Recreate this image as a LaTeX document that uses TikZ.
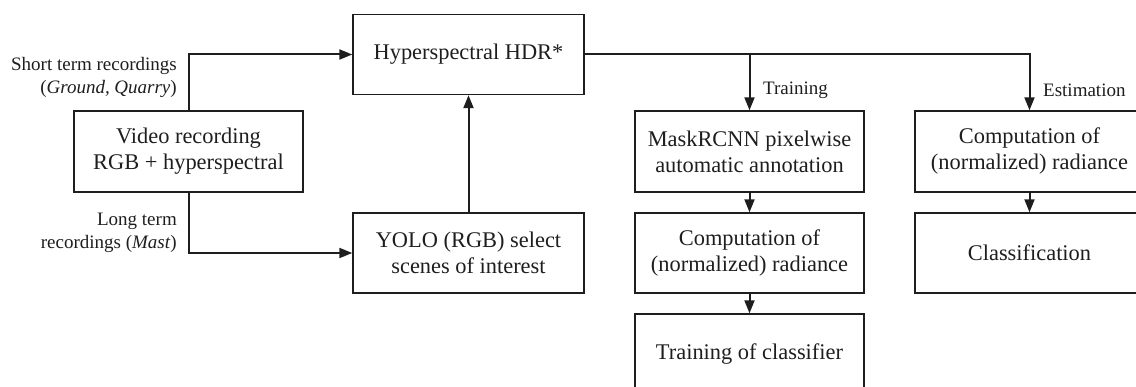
\documentclass[tikz,border=0pt]{standalone}
\usepackage{fontspec}
\setmainfont{Liberation Serif}
\usetikzlibrary{arrows.meta}
\definecolor{ink}{HTML}{1E1E1E}
\begin{document}
\begin{tikzpicture}[x=1pt,y=-1pt,
  box/.style={draw=ink, line width=1.4pt, minimum width=229pt, minimum height=81pt,
    inner sep=0pt, align=center, text=ink, font=\fontsize{22.4}{26}\selectfont},
  conn/.style={draw=ink, line width=2pt, -{Triangle[length=13pt,width=10pt]}},
  lbl/.style={inner sep=0pt, text=ink, font=\fontsize{19}{23}\selectfont}]
\useasboundingbox (0,0) rectangle (1136,387);
\clip (0,0) rectangle (1136,387);
\node[box] (video) at (188.5,151.5) {Video recording\\RGB + hyperspectral};
\node[box, minimum width=231pt, minimum height=80pt] (hyper) at (468.5,54.5) {Hyperspectral HDR*};
\node[box, minimum width=231pt, minimum height=80pt] (yolo) at (468.5,253) {YOLO (RGB) select\\scenes of interest};
\node[box] (mask) at (749.5,151.5) {MaskRCNN pixelwise\\automatic annotation};
\node[box, minimum height=80pt] (comp) at (749.5,253) {Computation of\\(normalized) radiance};
\node[box] (train) at (749.5,354.5) {Training of classifier};
\node[box] (ecomp) at (1029.5,151.5) {Computation of\\(normalized) radiance};
\node[box, minimum height=80pt] (cls) at (1029.5,253) {Classification};

\draw[conn] (video.north) |- (hyper.west);
\draw[conn] (video.south) |- (yolo.west);
\draw[conn] (yolo.north) -- (hyper.south);
\draw[conn] (hyper.east) -| (ecomp.north);
\coordinate (tb) at (mask.north |- hyper.east);
\draw[conn] (tb) -- (mask.north);
\draw[conn] (mask.south) -- (comp.north);
\draw[conn] (comp.south) -- (train.north);
\draw[conn] (ecomp.south) -- (cls.north);

\node[lbl, anchor=west] (ltrain) at (763,90) {Training};
\node[lbl, anchor=west] (lest) at (1043,90) {Estimation};
\node[lbl, anchor=east, align=right] (lshort) at (177,77.5) {Short term recordings\\(\textit{Ground, Quarry})};
\node[lbl, anchor=east, align=right] (llong) at (177,232.5) {Long term\\recordings (\textit{Mast})};
\end{tikzpicture}
\end{document}
